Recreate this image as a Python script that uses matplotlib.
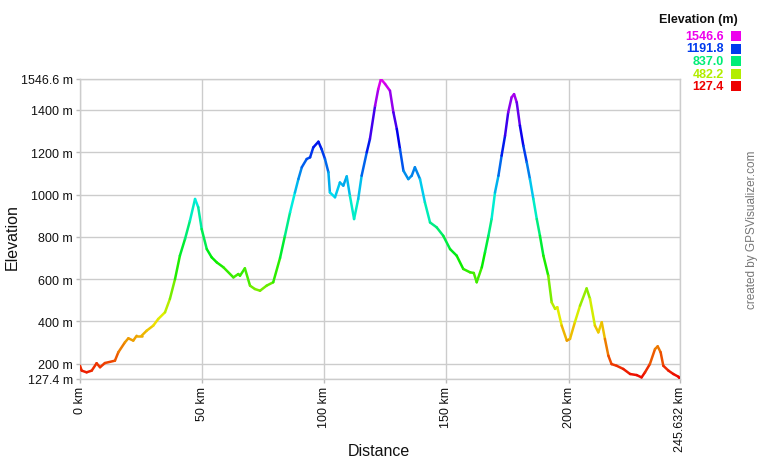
import numpy as np
import matplotlib
matplotlib.use("Agg")
import matplotlib.pyplot as plt
from matplotlib.collections import LineCollection
from matplotlib.colors import hsv_to_rgb

plt.rcParams['font.family'] = ['Liberation Sans', 'DejaVu Sans']

# profile (km, m)
dist_km = [0, 0.7, 2.7, 4.8, 6.8, 8.2, 10.2, 14.3, 15.7, 18.4, 19.8, 21.8, 23.2, 25.2,
           27.3, 30.0, 32.0, 34.8, 36.8, 38.9, 40.9, 43.0, 45.0, 47.1, 48.4, 49.8, 51.9,
           53.9, 56.0, 58.7, 62.8, 64.8, 65.5, 67.5, 69.6, 71.6, 73.7, 76.4, 79.1, 81.9,
           83.9, 86.0, 88.0, 89.4, 90.8, 92.8, 94.2, 95.5, 97.6, 98.9, 100.3, 101.7, 102.3,
           104.4, 106.4, 107.8, 109.2, 110.5, 112.2, 113.9, 115.3, 117.4, 118.7, 120.8,
           122.1, 123.2, 124.9, 126.9, 128.3, 129.7, 131.0, 132.4, 134.4, 135.8, 137.1,
           139.2, 141.2, 143.3, 146.0, 148.7, 151.5, 154.2, 156.9, 159.7, 161.2, 162.4,
           164.5, 165.8, 167.2, 168.5, 169.9, 171.3, 172.6, 174.0, 175.3, 176.7, 177.7,
           178.8, 180.1, 181.5, 182.9, 184.2, 185.6, 187.0, 188.3, 189.7, 191.7, 193.1,
           194.5, 195.4, 197.2, 199.3, 200.6, 202.6, 204.7, 207.4, 208.8, 210.8, 212.2,
           213.6, 214.9, 216.3, 217.6, 219.7, 222.4, 225.2, 227.9, 229.9, 231.3, 233.3,
           235.4, 236.5, 237.7, 238.8, 240.9, 242.9, 245.0, 245.632]
elev_m = [190, 167, 159, 167, 202, 183, 203, 214, 254, 301, 320, 309, 332, 332,
          356, 380, 411, 443, 506, 600, 711, 790, 876, 979, 940, 837, 742,
          703, 679, 656, 608, 624, 616, 651, 569, 553, 545, 569, 585, 700,
          805, 916, 1010, 1073, 1129, 1168, 1176, 1223, 1250, 1215, 1168, 1105, 1010,
          987, 1057, 1042, 1086, 994, 884, 979, 1089, 1200, 1263, 1420,
          1499, 1546.6, 1523, 1491, 1389, 1310, 1215, 1113, 1073, 1089, 1129,
          1073, 963, 868, 845, 805, 742, 711, 648, 632, 629, 585,
          656, 727, 805, 884, 1010, 1089, 1184, 1278, 1389, 1460, 1475,
          1436, 1326, 1231, 1152, 1073, 979, 884, 805, 711, 616, 490,
          459, 467, 380, 309, 317, 396, 474, 556, 506, 380, 348,
          396, 317, 238, 198, 190, 175, 151, 146, 135, 159, 198,
          269, 282, 254, 190, 167, 151, 138, 127.4]

y_ticks = [127.4, 200, 400, 600, 800, 1000, 1200, 1400, 1546.6]
y_labels = ["127.4 m", "200 m", "400 m", "600 m", "800 m", "1000 m", "1200 m", "1400 m", "1546.6 m"]
x_ticks = [0, 50, 100, 150, 200, 245.632]
x_labels = ["0 km", "50 km", "100 km", "150 km", "200 km", "245.632 km"]
legend_vals = [1546.6, 1191.8, 837.0, 482.2, 127.4]

e_min, e_max = 127.4, 1546.6


def elev_color(v):
    # red -> yellow -> green -> blue -> magenta
    h = (v - e_min) / (e_max - e_min) * 300.0 / 360.0
    return hsv_to_rgb((h, 1.0, 0.93))


fig = plt.figure(figsize=(7.6, 4.6), dpi=100)
ax = fig.add_axes([80 / 760, 80 / 460, 600 / 760, 300 / 460])

x = np.array(dist_km)
y = np.array(elev_m)
pts = np.column_stack([x, y]).reshape(-1, 1, 2)
segs = np.concatenate([pts[:-1], pts[1:]], axis=1)
cols = [elev_color((a + b) / 2) for a, b in zip(y[:-1], y[1:])]
lc = LineCollection(segs, colors=cols, linewidths=1.8, capstyle='round', joinstyle='round', zorder=3)
ax.add_collection(lc)

ax.set_xlim(0, 245.632)
ax.set_ylim(e_min, e_max)
ax.set_xticks(x_ticks)
ax.set_xticklabels(x_labels, rotation=90, fontsize=9, color='#111111')
ax.set_yticks(y_ticks)
ax.set_yticklabels(y_labels, fontsize=9, color='#111111')
ax.tick_params(axis='both', length=3, width=1, color='#bbbbbb', pad=2)
ax.grid(True, color='#cccccc', linewidth=1)
ax.set_axisbelow(True)
for s in ax.spines.values():
    s.set_color('#cccccc')
    s.set_linewidth(1)

# axis titles placed in figure pixels
fig.text(379 / 760, 1 - 452 / 460, "Distance", ha='center', va='center',
         fontsize=11.5, color='#111111')
fig.text(12 / 760, 1 - 237 / 460, "Elevation", ha='center', va='center',
         rotation=90, fontsize=11.5, color='#111111')

# legend
fig.text(738 / 760, 1 - 20 / 460, "Elevation (m)", ha='right', va='center',
         fontsize=9, fontweight='bold', color='#111111')
for i, v in enumerate(legend_vals):
    yy = 1 - (37 + i * 12.5) / 460
    c = elev_color(v)
    fig.text(724 / 760, yy, f"{v:.1f}", ha='right', va='center', fontsize=9,
             fontweight='bold', color=c)
    fig.patches.append(plt.Rectangle((731 / 760, yy - 5 / 460), 10 / 760, 10 / 460,
                                     transform=fig.transFigure, facecolor=c, edgecolor='none'))

fig.text(752 / 760, 1 - 230 / 460, "created by GPSVisualizer.com", rotation=90,
         ha='center', va='center', fontsize=8.5, color='#777777')

fig.savefig("out.png", dpi=100)
